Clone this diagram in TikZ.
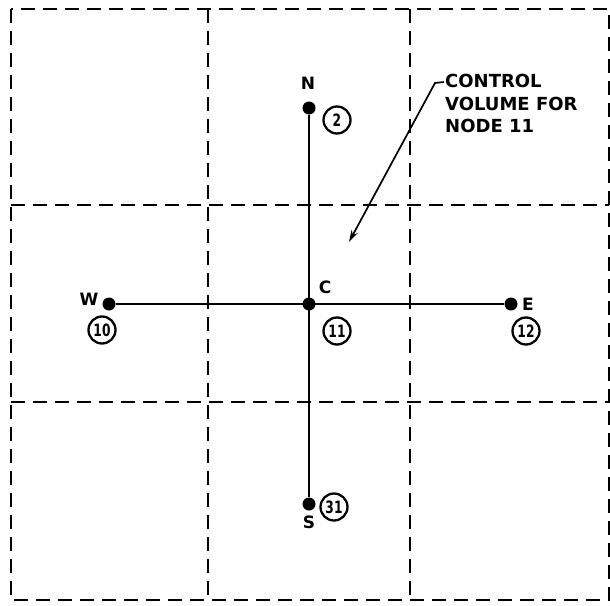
\documentclass[tikz,border=0pt]{standalone}
\usepackage{fontspec}
\setmainfont{DejaVu Sans}
\usetikzlibrary{arrows.meta,positioning}
\newcommand{\condnum}[1]{\scalebox{0.72}[1]{#1}}

\begin{document}
\begin{tikzpicture}[x=1pt,y=-1pt,
  grid/.style={dash pattern=on 14pt off 8pt,line width=2.2pt},
  bar/.style={line width=2.6pt},
  dot/.style={circle,fill=black,inner sep=0pt,minimum size=13pt},
  lbl/.style={font=\fontsize{17}{17}\selectfont\bfseries,inner sep=1pt},
  num/.style={draw,circle,line width=2.3pt,inner sep=0pt,minimum size=27pt,
              font=\fontsize{17}{17}\selectfont\bfseries},
  arr/.style={-{Stealth[length=12pt,width=7pt]},line width=1.7pt}]
\useasboundingbox (0,0) rectangle (610,605);
% control volume grid
\draw[grid] (11,9) rectangle (609,600);
\draw[grid] (208,9) -- (208,600);
\draw[grid] (410,9) -- (410,600);
\draw[grid] (11,205) -- (609,205);
\draw[grid] (11,402) -- (609,402);
% nodes
\node[dot] (c) at (309,304) {};
\node[dot] (n) at (309,108) {};
\node[dot] (s) at (309,504) {};
\node[dot] (w) at (109,304) {};
\node[dot] (e) at (511,304) {};
\draw[bar] (n) -- (s);
\draw[bar] (w) -- (e);
% letters
\node[lbl] at (308,83) {N};
\node[lbl] at (309,522) {S};
\node[lbl] at (89,299) {W};
\node[lbl] at (528,304) {E};
\node[lbl] at (325,287) {C};
% node numbers
\node[num] at (337,120) {\condnum{2}};
\node[num] at (102,330) {\condnum{10}};
\node[num] at (337,331) {\condnum{11}};
\node[num] at (526,331) {\condnum{12}};
\node[num] at (334,507) {\condnum{31}};
% control volume label
\node[lbl,anchor=north west,align=left,inner sep=0pt,
      font=\fontsize{18}{22.5}\selectfont\bfseries] (cv) at (445,74)
  {CONTROL\\VOLUME FOR\\NODE 11};
\coordinate (tip) at (349,242);
\draw[arr] (cv.north west) ++(-1,8) -- ++(-9,1) -- (tip);
\end{tikzpicture}
\end{document}
